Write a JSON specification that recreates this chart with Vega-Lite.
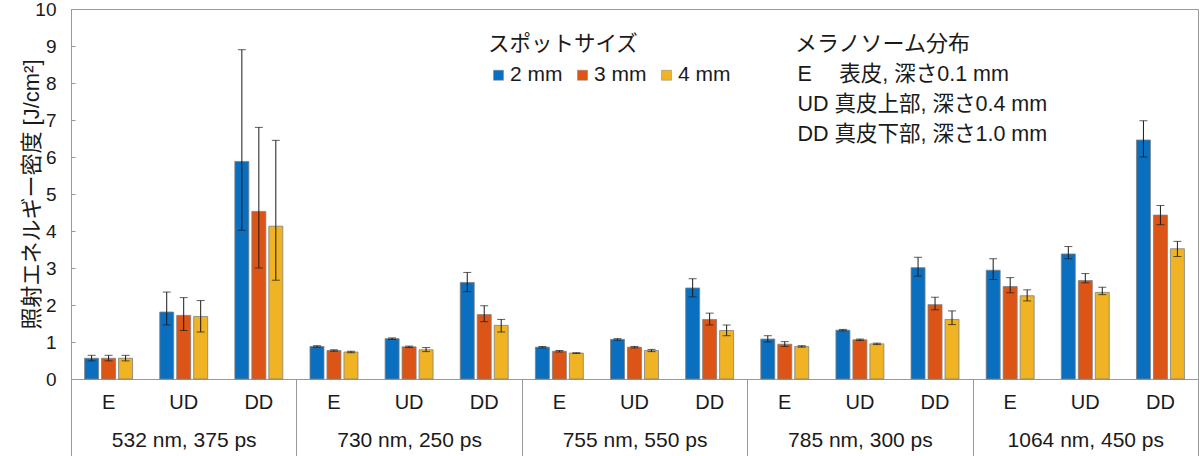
{
  "$schema": "https://vega.github.io/schema/vega-lite/v6.json",
  "width": 1127,
  "height": 370,
  "autosize": {"type": "none"},
  "padding": {"left": 71, "top": 9, "right": 2, "bottom": 77},
  "background": "white",
  "config": {
    "font": "Liberation Sans, Noto Sans CJK JP",
    "view": {"stroke": "#999999", "strokeWidth": 1},
    "axis": {"labelFont": "Liberation Sans, Noto Sans CJK JP", "titleFont": "Liberation Sans, Noto Sans CJK JP", "labelColor": "#1a1a1a", "titleColor": "#1a1a1a", "domainColor": "#999999", "tickColor": "#999999", "grid": false},
    "axisY": {"labelOverlap": false, "labelFlush": false, "tickSize": -4, "labelPadding": 19, "labelFontSize": 19, "titleFontSize": 22, "titleFontWeight": "normal", "titlePadding": -9},
    "legend": {"labelFont": "Liberation Sans, Noto Sans CJK JP", "titleFont": "Liberation Sans, Noto Sans CJK JP", "labelColor": "#1a1a1a", "titleColor": "#1a1a1a"}
  },
  "datasets": {
    "d": [
      {"wl": "532 nm, 375 ps", "cat": "532 nm, 375 ps|E", "depth": "E", "size": "2 mm", "v": 0.56, "lo": 0.49, "hi": 0.64},
      {"wl": "532 nm, 375 ps", "cat": "532 nm, 375 ps|E", "depth": "E", "size": "3 mm", "v": 0.56, "lo": 0.49, "hi": 0.64},
      {"wl": "532 nm, 375 ps", "cat": "532 nm, 375 ps|E", "depth": "E", "size": "4 mm", "v": 0.56, "lo": 0.49, "hi": 0.64},
      {"wl": "532 nm, 375 ps", "cat": "532 nm, 375 ps|UD", "depth": "UD", "size": "2 mm", "v": 1.81, "lo": 1.46, "hi": 2.35},
      {"wl": "532 nm, 375 ps", "cat": "532 nm, 375 ps|UD", "depth": "UD", "size": "3 mm", "v": 1.72, "lo": 1.31, "hi": 2.2},
      {"wl": "532 nm, 375 ps", "cat": "532 nm, 375 ps|UD", "depth": "UD", "size": "4 mm", "v": 1.69, "lo": 1.27, "hi": 2.12},
      {"wl": "532 nm, 375 ps", "cat": "532 nm, 375 ps|DD", "depth": "DD", "size": "2 mm", "v": 5.88, "lo": 4.02, "hi": 8.9},
      {"wl": "532 nm, 375 ps", "cat": "532 nm, 375 ps|DD", "depth": "DD", "size": "3 mm", "v": 4.53, "lo": 3.0, "hi": 6.8},
      {"wl": "532 nm, 375 ps", "cat": "532 nm, 375 ps|DD", "depth": "DD", "size": "4 mm", "v": 4.13, "lo": 2.67, "hi": 6.45},
      {"wl": "730 nm, 250 ps", "cat": "730 nm, 250 ps|E", "depth": "E", "size": "2 mm", "v": 0.88, "lo": 0.86, "hi": 0.9},
      {"wl": "730 nm, 250 ps", "cat": "730 nm, 250 ps|E", "depth": "E", "size": "3 mm", "v": 0.77, "lo": 0.75, "hi": 0.79},
      {"wl": "730 nm, 250 ps", "cat": "730 nm, 250 ps|E", "depth": "E", "size": "4 mm", "v": 0.73, "lo": 0.71, "hi": 0.75},
      {"wl": "730 nm, 250 ps", "cat": "730 nm, 250 ps|UD", "depth": "UD", "size": "2 mm", "v": 1.09, "lo": 1.07, "hi": 1.11},
      {"wl": "730 nm, 250 ps", "cat": "730 nm, 250 ps|UD", "depth": "UD", "size": "3 mm", "v": 0.87, "lo": 0.85, "hi": 0.89},
      {"wl": "730 nm, 250 ps", "cat": "730 nm, 250 ps|UD", "depth": "UD", "size": "4 mm", "v": 0.79, "lo": 0.74, "hi": 0.85},
      {"wl": "730 nm, 250 ps", "cat": "730 nm, 250 ps|DD", "depth": "DD", "size": "2 mm", "v": 2.61, "lo": 2.36, "hi": 2.88},
      {"wl": "730 nm, 250 ps", "cat": "730 nm, 250 ps|DD", "depth": "DD", "size": "3 mm", "v": 1.74, "lo": 1.55, "hi": 1.98},
      {"wl": "730 nm, 250 ps", "cat": "730 nm, 250 ps|DD", "depth": "DD", "size": "4 mm", "v": 1.45, "lo": 1.27, "hi": 1.61},
      {"wl": "755 nm, 550 ps", "cat": "755 nm, 550 ps|E", "depth": "E", "size": "2 mm", "v": 0.86, "lo": 0.84, "hi": 0.88},
      {"wl": "755 nm, 550 ps", "cat": "755 nm, 550 ps|E", "depth": "E", "size": "3 mm", "v": 0.75, "lo": 0.73, "hi": 0.77},
      {"wl": "755 nm, 550 ps", "cat": "755 nm, 550 ps|E", "depth": "E", "size": "4 mm", "v": 0.7, "lo": 0.69, "hi": 0.71},
      {"wl": "755 nm, 550 ps", "cat": "755 nm, 550 ps|UD", "depth": "UD", "size": "2 mm", "v": 1.07, "lo": 1.05, "hi": 1.09},
      {"wl": "755 nm, 550 ps", "cat": "755 nm, 550 ps|UD", "depth": "UD", "size": "3 mm", "v": 0.86, "lo": 0.84, "hi": 0.88},
      {"wl": "755 nm, 550 ps", "cat": "755 nm, 550 ps|UD", "depth": "UD", "size": "4 mm", "v": 0.77, "lo": 0.74, "hi": 0.8},
      {"wl": "755 nm, 550 ps", "cat": "755 nm, 550 ps|DD", "depth": "DD", "size": "2 mm", "v": 2.46, "lo": 2.22, "hi": 2.71},
      {"wl": "755 nm, 550 ps", "cat": "755 nm, 550 ps|DD", "depth": "DD", "size": "3 mm", "v": 1.61, "lo": 1.46, "hi": 1.78},
      {"wl": "755 nm, 550 ps", "cat": "755 nm, 550 ps|DD", "depth": "DD", "size": "4 mm", "v": 1.31, "lo": 1.17, "hi": 1.46},
      {"wl": "785 nm, 300 ps", "cat": "785 nm, 300 ps|E", "depth": "E", "size": "2 mm", "v": 1.08, "lo": 1.0, "hi": 1.17},
      {"wl": "785 nm, 300 ps", "cat": "785 nm, 300 ps|E", "depth": "E", "size": "3 mm", "v": 0.94, "lo": 0.88, "hi": 1.01},
      {"wl": "785 nm, 300 ps", "cat": "785 nm, 300 ps|E", "depth": "E", "size": "4 mm", "v": 0.88, "lo": 0.86, "hi": 0.9},
      {"wl": "785 nm, 300 ps", "cat": "785 nm, 300 ps|UD", "depth": "UD", "size": "2 mm", "v": 1.32, "lo": 1.3, "hi": 1.34},
      {"wl": "785 nm, 300 ps", "cat": "785 nm, 300 ps|UD", "depth": "UD", "size": "3 mm", "v": 1.06, "lo": 1.04, "hi": 1.08},
      {"wl": "785 nm, 300 ps", "cat": "785 nm, 300 ps|UD", "depth": "UD", "size": "4 mm", "v": 0.95, "lo": 0.93, "hi": 0.97},
      {"wl": "785 nm, 300 ps", "cat": "785 nm, 300 ps|DD", "depth": "DD", "size": "2 mm", "v": 3.01, "lo": 2.78, "hi": 3.29},
      {"wl": "785 nm, 300 ps", "cat": "785 nm, 300 ps|DD", "depth": "DD", "size": "3 mm", "v": 2.01, "lo": 1.87, "hi": 2.21},
      {"wl": "785 nm, 300 ps", "cat": "785 nm, 300 ps|DD", "depth": "DD", "size": "4 mm", "v": 1.61, "lo": 1.47, "hi": 1.84},
      {"wl": "1064 nm, 450 ps", "cat": "1064 nm, 450 ps|E", "depth": "E", "size": "2 mm", "v": 2.94, "lo": 2.69, "hi": 3.25},
      {"wl": "1064 nm, 450 ps", "cat": "1064 nm, 450 ps|E", "depth": "E", "size": "3 mm", "v": 2.5, "lo": 2.33, "hi": 2.74},
      {"wl": "1064 nm, 450 ps", "cat": "1064 nm, 450 ps|E", "depth": "E", "size": "4 mm", "v": 2.25, "lo": 2.11, "hi": 2.41},
      {"wl": "1064 nm, 450 ps", "cat": "1064 nm, 450 ps|UD", "depth": "UD", "size": "2 mm", "v": 3.38, "lo": 3.25, "hi": 3.58},
      {"wl": "1064 nm, 450 ps", "cat": "1064 nm, 450 ps|UD", "depth": "UD", "size": "3 mm", "v": 2.66, "lo": 2.6, "hi": 2.85},
      {"wl": "1064 nm, 450 ps", "cat": "1064 nm, 450 ps|UD", "depth": "UD", "size": "4 mm", "v": 2.34, "lo": 2.28, "hi": 2.48},
      {"wl": "1064 nm, 450 ps", "cat": "1064 nm, 450 ps|DD", "depth": "DD", "size": "2 mm", "v": 6.46, "lo": 6.0, "hi": 6.98},
      {"wl": "1064 nm, 450 ps", "cat": "1064 nm, 450 ps|DD", "depth": "DD", "size": "3 mm", "v": 4.43, "lo": 4.17, "hi": 4.69},
      {"wl": "1064 nm, 450 ps", "cat": "1064 nm, 450 ps|DD", "depth": "DD", "size": "4 mm", "v": 3.52, "lo": 3.31, "hi": 3.72}
    ],
    "w": [
      {"wl": "532 nm, 375 ps"},
      {"wl": "730 nm, 250 ps"},
      {"wl": "755 nm, 550 ps"},
      {"wl": "785 nm, 300 ps"},
      {"wl": "1064 nm, 450 ps"}
    ],
    "notes": [
      {"note": "E\u3000 表皮, 深さ0.1 mm"},
      {"note": "UD 真皮上部, 深さ0.4 mm"},
      {"note": "DD 真皮下部, 深さ1.0 mm"}
    ]
  },
  "layer": [
    {
      "data": {"name": "d"},
      "mark": {"type": "bar", "stroke": "#808080", "strokeWidth": 0.8},
      "encoding": {
        "x": {"field": "cat", "type": "nominal", "sort": null,
          "scale": {"type": "band", "paddingInner": 0, "paddingOuter": 0},
          "axis": {"title": null, "labelExpr": "split(datum.label, '|')[1]", "ticks": false, "labelAngle": 0, "labelPadding": 13, "labelFontSize": 20, "domainColor": "#999999"}},
        "xOffset": {"field": "size", "type": "nominal", "sort": null, "scale": {"paddingInner": 0.176, "paddingOuter": 0.8}},
        "y": {"field": "v", "type": "quantitative", "scale": {"domain": [0, 10], "nice": false},
          "axis": {"title": "照射エネルギー密度 [J/cm²]", "values": [0, 1, 2, 3, 4, 5, 6, 7, 8, 9, 10], "labelOverlap": false}},
        "color": {"field": "size", "type": "nominal",
          "scale": {"domain": ["2 mm", "3 mm", "4 mm"], "range": ["#0b6fc0", "#dc5516", "#efb324"]},
          "legend": {"title": "スポットサイズ", "orient": "none", "legendX": 417, "legendY": 25, "direction": "horizontal", "columns": 3, "symbolType": "square", "symbolSize": 100, "symbolStrokeWidth": 0.5, "labelFontSize": 21, "titleFontSize": 21.5, "titleFontWeight": "normal", "titlePadding": 9, "columnPadding": 9, "labelOffset": 1, "padding": 0}}
      }
    },
    {
      "data": {"name": "d"},
      "mark": {"type": "rule", "color": "#1a1a1a", "strokeWidth": 1},
      "encoding": {
        "x": {"field": "cat", "type": "nominal", "sort": null, "scale": {"type": "band", "paddingInner": 0, "paddingOuter": 0}, "axis": null},
        "xOffset": {"field": "size", "type": "nominal", "sort": null, "scale": {"paddingInner": 0.176, "paddingOuter": 0.8}},
        "y": {"field": "lo", "type": "quantitative", "axis": {"title": "照射エネルギー密度 [J/cm²]", "values": [0, 1, 2, 3, 4, 5, 6, 7, 8, 9, 10], "labelOverlap": false}},
        "y2": {"field": "hi"}
      }
    },
    {
      "data": {"name": "d"},
      "mark": {"type": "tick", "color": "#1a1a1a", "thickness": 1, "size": 8, "orient": "horizontal"},
      "encoding": {
        "x": {"field": "cat", "type": "nominal", "sort": null, "scale": {"type": "band", "paddingInner": 0, "paddingOuter": 0}, "axis": null},
        "xOffset": {"field": "size", "type": "nominal", "sort": null, "scale": {"paddingInner": 0.176, "paddingOuter": 0.8}},
        "y": {"field": "lo", "type": "quantitative", "axis": {"title": "照射エネルギー密度 [J/cm²]", "values": [0, 1, 2, 3, 4, 5, 6, 7, 8, 9, 10], "labelOverlap": false}}
      }
    },
    {
      "data": {"name": "d"},
      "mark": {"type": "tick", "color": "#1a1a1a", "thickness": 1, "size": 8, "orient": "horizontal"},
      "encoding": {
        "x": {"field": "cat", "type": "nominal", "sort": null, "scale": {"type": "band", "paddingInner": 0, "paddingOuter": 0}, "axis": null},
        "xOffset": {"field": "size", "type": "nominal", "sort": null, "scale": {"paddingInner": 0.176, "paddingOuter": 0.8}},
        "y": {"field": "hi", "type": "quantitative", "axis": {"title": "照射エネルギー密度 [J/cm²]", "values": [0, 1, 2, 3, 4, 5, 6, 7, 8, 9, 10], "labelOverlap": false}}
      }
    },
    {
      "data": {"name": "w"},
      "mark": {"type": "rule", "opacity": 0},
      "encoding": {
        "x": {"field": "wl", "type": "nominal", "sort": null,
          "scale": {"type": "band", "paddingInner": 0, "paddingOuter": 0},
          "axis": {"orient": "bottom", "title": null, "domain": false, "ticks": true, "tickBand": "extent", "tickSize": 77, "tickColor": "#999999", "labelPadding": -27, "labelAngle": 0, "labelFontSize": 21}}
      }
    },
    {
      "data": {"name": "notes"},
      "mark": {"type": "point", "opacity": 0},
      "encoding": {
        "shape": {"field": "note", "type": "nominal", "sort": null,
          "legend": {"title": "メラノソーム分布", "orient": "none", "legendX": 724, "legendY": 25, "direction": "vertical", "symbolSize": 0, "symbolOpacity": 0, "symbolStrokeWidth": 0, "labelOffset": -19, "labelLimit": 400, "rowPadding": 7, "titlePadding": 8, "labelFontSize": 21.5, "titleFontSize": 22, "titleFontWeight": "normal", "padding": 0}}
      }
    }
  ],
  "resolve": {"scale": {"x": "independent"}, "axis": {"x": "independent"}}
}
